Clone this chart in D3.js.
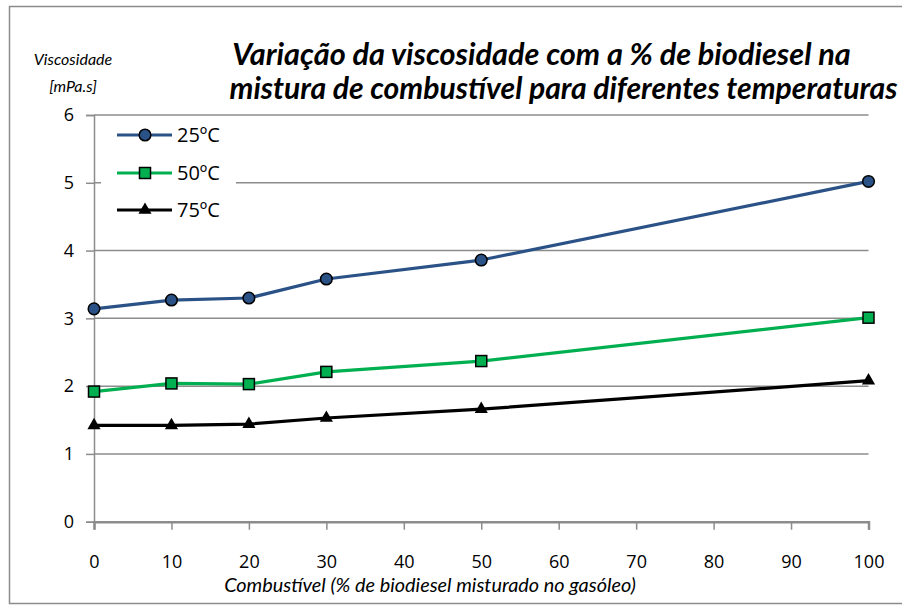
<!DOCTYPE html>
<html><head><meta charset="utf-8">
<script src="https://cdn.jsdelivr.net/npm/d3@7"></script>
<style>body{margin:0;background:#fff}svg{display:block}</style>
</head><body>
<svg id="c" width="902" height="606"></svg>
<script>
const xValues = [0, 10, 20, 30, 50, 100];
const series25 = [3.14, 3.27, 3.30, 3.58, 3.86, 5.02];
const series50 = [1.92, 2.04, 2.03, 2.21, 2.37, 3.01];
const series75 = [1.42, 1.42, 1.44, 1.53, 1.66, 2.08];
const seriesNames = ["25ºC", "50ºC", "75ºC"];
const xTicks = [0,10,20,30,40,50,60,70,80,90,100];
const yTicks = [0,1,2,3,4,5,6];
const titleLines = ["Variação da viscosidade com a % de biodiesel na",
                    "mistura de combustível para diferentes temperaturas"];
const yTitleLines = ["Viscosidade", "[mPa.s]"];
const xTitle = "Combustível (% de biodiesel misturado no gasóleo)";

const svg = d3.select("#c");
const W = 902, H = 606;
const m = {l: 94, r: 902-868.5, t: 115, b: 606-521.7};
const x = d3.scaleLinear().domain([0,100]).range([m.l, W-m.r]);
const y = d3.scaleLinear().domain([0,6]).range([H-m.b, m.t]);
const grid = "#8c8c8c";
const FONT = "'Open Sans', 'Noto Sans', sans-serif";
const TFONT = "Lato, 'Open Sans', sans-serif";

// fit text width helper (layout only)
function fit(sel, target){
  const fs = +sel.attr("font-size");
  const w = sel.node().getComputedTextLength();
  sel.attr("font-size", (fs*target/w).toFixed(2));
}

// outer border
svg.append("rect").attr("x",9.5).attr("y",6.5).attr("width",W).attr("height",597)
  .attr("fill","#fff").attr("stroke","#8c8c8c").attr("stroke-width",1.5);

// gridlines
svg.append("g").selectAll("line").data(yTicks.filter(d=>d>0)).join("line")
  .attr("x1",x(0)).attr("x2",x(100)).attr("y1",d=>y(d)).attr("y2",d=>y(d))
  .attr("stroke",grid).attr("stroke-width",1.5);

// y axis
const ya = svg.append("g").attr("transform",`translate(${x(0)},0)`)
  .call(d3.axisLeft(y).tickValues(yTicks).tickSize(8).tickPadding(12).tickFormat(d3.format("d")));
ya.select(".domain").attr("stroke",grid).attr("stroke-width",1.5);
ya.selectAll(".tick line").attr("stroke",grid).attr("stroke-width",1.5);
ya.selectAll("text").attr("font-family",FONT).attr("font-size",18).attr("fill","#000");

// x axis
const xa = svg.append("g").attr("transform",`translate(0,${y(0)})`)
  .call(d3.axisBottom(x).tickValues(xTicks).tickSize(8).tickPadding(26).tickFormat(d3.format("d")));
xa.select(".domain").attr("stroke",grid).attr("stroke-width",2.5);
xa.selectAll(".tick line").attr("stroke",grid).attr("stroke-width",1.5);
xa.selectAll("text").attr("font-family",FONT).attr("font-size",18).attr("fill","#000");

const cfg = [
  {vals: series25, color:"#2a5286", shape:"circle"},
  {vals: series50, color:"#00b050", shape:"square"},
  {vals: series75, color:"#000000", shape:"triangle"}
];
const line = d3.line().x((d,i)=>x(xValues[i])).y(d=>y(d));

function marker(g, shape, color, cx, cy){
  if(shape==="circle"){
    g.append("circle").attr("cx",cx).attr("cy",cy).attr("r",5.8)
      .attr("fill",color).attr("stroke","#000").attr("stroke-width",1.5);
  } else if(shape==="square"){
    g.append("rect").attr("x",cx-5.5).attr("y",cy-5.5).attr("width",11).attr("height",11)
      .attr("fill",color).attr("stroke","#000").attr("stroke-width",1.5);
  } else {
    g.append("path").attr("d",d3.symbol().type(d3.symbolTriangle).size(75)())
      .attr("transform",`translate(${cx},${cy})`).attr("fill","#000");
  }
}

cfg.forEach(s=>{
  svg.append("path").datum(s.vals).attr("d",line).attr("fill","none")
    .attr("stroke",s.color).attr("stroke-width",3.2).attr("stroke-linejoin","round");
  const g = svg.append("g");
  s.vals.forEach((v,i)=>marker(g, s.shape, s.color, x(xValues[i]), y(v)));
});

// legend
svg.append("rect").attr("x",101).attr("y",120).attr("width",135).attr("height",106).attr("fill","#fff");
const ly = [135, 173, 210];
cfg.forEach((s,i)=>{
  const g = svg.append("g");
  g.append("line").attr("x1",117).attr("x2",172).attr("y1",ly[i]).attr("y2",ly[i])
    .attr("stroke",s.color).attr("stroke-width",3.2);
  marker(g, s.shape, s.color, 145, ly[i]);
  g.append("text").attr("x",177).attr("y",ly[i]).attr("dy","0.36em")
    .attr("font-family",FONT).attr("font-size",20).text(seriesNames[i]);
});

// chart title
const t1 = svg.append("text").attr("font-family",TFONT).attr("font-style","italic")
  .attr("font-weight","bold").attr("font-size",28).attr("text-anchor","middle")
  .attr("x",541.5).attr("y",65).text(titleLines[0]);
fit(t1, 619);
const t2 = svg.append("text").attr("font-family",TFONT).attr("font-style","italic")
  .attr("font-weight","bold").attr("font-size",28).attr("text-anchor","middle")
  .attr("x",563.5).attr("y",99).text(titleLines[1]);
fit(t2, 668);

// y title
svg.append("text").attr("x",73).attr("y",65).attr("text-anchor","middle")
  .attr("font-family",TFONT).attr("font-style","italic").attr("font-size",16).text(yTitleLines[0]);
svg.append("text").attr("x",73).attr("y",92).attr("text-anchor","middle")
  .attr("font-family",TFONT).attr("font-style","italic").attr("font-size",16).text(yTitleLines[1]);

// x title
const xt = svg.append("text").attr("x",430).attr("y",592).attr("text-anchor","middle")
  .attr("font-family",TFONT).attr("font-style","italic").attr("font-size",18).text(xTitle);
fit(xt, 412);
</script>
</body></html>
